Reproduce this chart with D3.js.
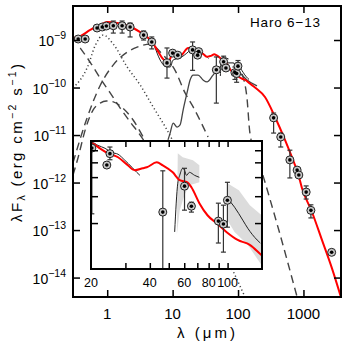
<!DOCTYPE html>
<html>
<head>
<meta charset="utf-8">
<script src="https://cdn.jsdelivr.net/npm/d3@7"></script>
<style>
body { margin: 0; background: #fff; }
text { font-family: "Liberation Sans", Arial, sans-serif; fill: #000; }
</style>
</head>
<body>
<svg id="chart" width="350" height="350"></svg>
<script>
// total model (red)
let modelLam = [0.30,0.387,0.55,0.78,1.0,1.42,1.88,2.49,3.19,4.08,4.86,5.8,6.9,8.5,10.2,13.0,17.3,20.2,22.2,24.4,27.5,30.5,33.5,36.8,38.6,43.4,46.6,52.4,56.9,62.3,65.3,71.7,78.9,87.6,98.6,112.6,129.9,149.4,182,258,367,522,692,824,948,1350,1916,2722,3740];
let modelFlux = [1.10e-9,1.21e-9,1.63e-9,2.07e-9,2.39e-9,2.28e-9,2.07e-9,1.79e-9,1.47e-9,1.16e-9,9.1e-10,6.2e-10,4.2e-10,3.4e-10,5.3e-10,4.6e-10,6.8e-10,6.66e-10,6.18e-10,5.73e-10,5.4e-10,4.85e-10,4.44e-10,4.57e-10,4.64e-10,5.0e-10,4.78e-10,4.30e-10,3.82e-10,3.70e-10,3.43e-10,2.70e-10,2.25e-10,2.0e-10,1.75e-10,1.55e-10,1.44e-10,1.23e-10,1.0e-10,6.3e-11,2.4e-11,7.9e-12,3.0e-12,1.58e-12,7.7e-13,2.4e-13,6.2e-14,1.58e-14,3.9e-15];

// stellar photosphere (dotted)
let starLam = [0.30,0.50,0.66,0.87,1.24,2.02,3.19,5.04,8.24,26.3,128];
let starFlux = [9.8e-11,2.7e-10,7.8e-10,1.27e-9,8.2e-10,2.7e-10,1.13e-10,3.9e-11,1.27e-11,4.3e-13,3.9e-15];

// dashed components
let scatLam = [0.387,0.55,0.78,1.11,1.58,2.24,3.19,4.53];
let scatFlux = [6.8e-10,3.4e-10,1.58e-10,7.7e-11,3.7e-11,1.9e-11,1.0e-11,4.8e-12];
let archLam = [0.30,0.36,0.46,0.61,0.78,0.97,1.24,1.58,2.49,3.55,4.53];
let archFlux = [1.44e-12,3.4e-12,1.27e-11,3.4e-11,4.7e-11,5.2e-11,5.0e-11,4.1e-11,2.07e-11,9.1e-12,4.8e-12];
let diskLam = [0.30,0.48,0.78,1.24,2.0,2.87,4.53,7.0,10.9,15.5,20.6,34.8];
let diskFlux = [2.6e-12,2.07e-11,1.1e-10,3.0e-10,5.5e-10,7.1e-10,8.2e-10,5.0e-10,2.3e-10,7.7e-11,3.9e-11,9.1e-12];
let coldLam = [100,115,137,152,241,420,800];
let coldFlux = [3.5e-10,2.0e-10,6.0e-11,1.1e-11,1.4e-12,1.0e-13,3.9e-15];

// envelope component (solid grey)
let envLam = [8.5,9.16,10.2,11.7,13.0,14.5,16.6,18.5,20.6,24.5,29.2,33.6,41.5,53.1,63.4,84,100,137,195];
let envFlux = [7.9e-12,1.1e-11,1.79e-11,1.47e-11,1.63e-11,3.4e-11,7.7e-11,1.44e-10,1.83e-10,1.83e-10,1.44e-10,1.31e-10,1.83e-10,2.7e-10,3.3e-10,3.3e-10,2.3e-10,1.44e-10,1.08e-10];

// observed spectra
let irsLam = [5.2,6.44,8.24,9.16,10.2,13.0,17.3,20.2,21.7,23.6,25.6,27.5,29.8,32.4,34.3,35.6];
let irsFlux = [8.0e-10,3.8e-10,2.7e-10,2.7e-10,3.8e-10,4.2e-10,5.6e-10,6.76e-10,6.46e-10,6.18e-10,5.8e-10,5.65e-10,5.16e-10,4.64e-10,4.30e-10,4.11e-10];
let pacsALam = [53.6,55.6,56.9,58.9,60.2,61.6,63.8,67.8,71.7];
let pacsAFlux = [1.75e-10,3.65e-10,4.11e-10,4.57e-10,4.44e-10,4.11e-10,4.30e-10,4.11e-10,3.99e-10];
let pacsBLam = [99.8,108.6,119.6,126.8,141.6,147.1];
let pacsBFlux = [2.91e-10,2.54e-10,2.09e-10,1.85e-10,1.55e-10,1.48e-10];
let bandALam = [55.6,58.9,66.5,71.7,71.7,63.8,60.2,56.9,55.0];
let bandAFlux = [5.73e-10,5.4e-10,5.16e-10,4.78e-10,3.70e-10,3.54e-10,3.05e-10,2.43e-10,1.67e-10];
let bandBLam = [99.8,114.2,130,149.4,149.4,126.8,108.6,99.8];
let bandBFlux = [3.65e-10,3.28e-10,2.62e-10,2.25e-10,1.06e-10,1.44e-10,1.75e-10,2.09e-10];

// photometry
let photLam = [0.36,0.46,0.70,0.84,0.97,1.24,1.69,2.24,3.6,4.8,8.2,10.0,12.0,20.2,25.0,24.1,46.6,60.2,65.3,89.7,95.2,99.8,350,450,620,800,850,1100,1300,2700];
let photFlux = [1.05e-9,1.05e-9,1.79e-9,1.88e-9,1.97e-9,2.0e-9,2.0e-9,1.88e-9,1.27e-9,9.1e-10,3.3e-10,5.3e-10,4.8e-10,6.2e-10,5.7e-10,4.8e-10,2.36e-10,3.49e-10,2.58e-10,2.06e-10,1.97e-10,2.82e-10,2.3e-11,9.1e-12,3.0e-12,1.83e-12,1.44e-12,6.3e-13,2.6e-13,3.4e-14];
let photLo = [null,null,null,null,null,1.4e-9,1.4e-9,1.16e-9,1.0e-9,6.5e-10,1.58e-10,null,null,2.3e-10,5.2e-10,null,4.7e-11,2.43e-10,2.36e-10,1.48e-10,1.29e-10,1.88e-10,1.1e-11,5.6e-12,1.25e-12,null,null,4.5e-13,1.8e-13,null];
let photHi = [null,null,null,null,null,2.51e-9,2.51e-9,2.28e-9,1.55e-9,1.16e-9,6.8e-10,null,null,9.1e-10,6.3e-10,null,4.4e-10,4.57e-10,2.74e-10,2.70e-10,2.62e-10,3.70e-10,2.9e-11,1.1e-11,4.8e-12,null,null,8.5e-13,3.4e-13,null];

let xTicks = [1, 10, 100, 1000];
let yTicks = [1e-14, 1e-13, 1e-12, 1e-11, 1e-10, 1e-9];
let insetXTicks = [30, 40, 50, 60, 70, 80, 90, 100];
let insetXLabels = [20, 40, 60, 80, 100];
let insetYTicks = [2e-10, 3e-10, 4e-10, 5e-10, 6e-10];

let svg = d3.select("#chart");
let pairs = (a, b) => d3.zip(a, b);

let x = d3.scaleLog().domain([0.3, 3750]).range([73, 341]);
let y = d3.scaleLog().domain([3.9e-15, 5.2e-9]).range([297, 6]);

svg.append("clipPath").attr("id", "mainClip")
	.append("rect").attr("x", 73).attr("y", 6).attr("width", 268).attr("height", 291);

let main = svg.append("g").attr("clip-path", "url(#mainClip)");
let line = d3.line().x(d => x(d[0])).y(d => y(d[1])).curve(d3.curveMonotoneX);

main.append("path").datum(pairs(starLam, starFlux)).attr("d", line)
	.attr("fill", "none").attr("stroke", "#444").attr("stroke-width", 1.5).attr("stroke-dasharray", "1.2,2.6");

[[scatLam, scatFlux], [archLam, archFlux], [diskLam, diskFlux], [coldLam, coldFlux]].forEach(c => {
	main.append("path").datum(pairs(c[0], c[1])).attr("d", line)
		.attr("fill", "none").attr("stroke", "#444").attr("stroke-width", 1.4).attr("stroke-dasharray", "8,5");
});

main.append("path").datum(pairs(envLam, envFlux)).attr("d", line)
	.attr("fill", "none").attr("stroke", "#444").attr("stroke-width", 1.3);

[[irsLam, irsFlux], [pacsALam, pacsAFlux], [pacsBLam, pacsBFlux]].forEach(c => {
	main.append("path").datum(pairs(c[0], c[1])).attr("d", line)
		.attr("fill", "none").attr("stroke", "#222").attr("stroke-width", 1);
});

main.append("path").datum(pairs(modelLam, modelFlux)).attr("d", line)
	.attr("fill", "none").attr("stroke", "#ff0000").attr("stroke-width", 2);

function drawPoints(g, sx, sy) {
	let pts = photLam.map((l, i) => ({l: l, f: photFlux[i], lo: photLo[i], hi: photHi[i]}));
	let bars = pts.filter(d => d.lo != null);
	g.selectAll(null).data(bars).enter().append("line")
		.attr("x1", d => sx(d.l)).attr("x2", d => sx(d.l))
		.attr("y1", d => sy(d.lo)).attr("y2", d => sy(d.hi))
		.attr("stroke", "#333").attr("stroke-width", 1.2);
	[["lo"], ["hi"]].forEach(k => {
		g.selectAll(null).data(bars).enter().append("line")
			.attr("x1", d => sx(d.l) - 2.5).attr("x2", d => sx(d.l) + 2.5)
			.attr("y1", d => sy(d[k[0]])).attr("y2", d => sy(d[k[0]]))
			.attr("stroke", "#333").attr("stroke-width", 1.2);
	});
	g.selectAll(null).data(pts).enter().append("circle")
		.attr("cx", d => sx(d.l)).attr("cy", d => sy(d.f)).attr("r", 4)
		.attr("fill", "#c8c8c8").attr("stroke", "#222").attr("stroke-width", 1);
	g.selectAll(null).data(pts).enter().append("circle")
		.attr("cx", d => sx(d.l)).attr("cy", d => sy(d.f)).attr("r", 1.8)
		.attr("fill", "#000");
}
drawPoints(main, x, y);

// main axes
let axG = svg.append("g");
axG.append("g").attr("transform", "translate(0,297)")
	.call(d3.axisBottom(x).tickValues(xTicks).tickSize(-7).tickFormat(""));
axG.append("g").attr("transform", "translate(0,6)")
	.call(d3.axisTop(x).tickValues(xTicks).tickSize(-7).tickFormat(""));
axG.append("g").attr("transform", "translate(73,0)")
	.call(d3.axisLeft(y).tickValues(yTicks).tickSize(-7).tickFormat(""));
axG.append("g").attr("transform", "translate(341,0)")
	.call(d3.axisRight(y).tickValues(yTicks).tickSize(-7).tickFormat(""));
axG.selectAll(".domain").remove();
axG.selectAll(".tick line").attr("stroke", "#000").attr("stroke-width", 1.5);
svg.append("rect").attr("x", 73).attr("y", 6).attr("width", 268).attr("height", 291)
	.attr("fill", "none").attr("stroke", "#000").attr("stroke-width", 2);

svg.selectAll(null).data(xTicks).enter().append("text")
	.attr("x", d => x(d)).attr("y", 319).attr("text-anchor", "middle")
	.attr("font-size", 15).text(d => d);

let yl = svg.selectAll(null).data(yTicks).enter().append("text")
	.attr("x", 66).attr("y", d => y(d) + 6).attr("text-anchor", "end").attr("font-size", 14);
yl.append("tspan").text("10");
yl.append("tspan").attr("dy", -7).attr("font-size", 10.5).text(d => "\u2212" + Math.round(-Math.log10(d)));

// titles
let yt = svg.append("text").attr("transform", "translate(22,143) rotate(-90)")
	.attr("text-anchor", "middle").attr("font-size", 15)
	.attr("textLength", 158).attr("lengthAdjust", "spacing");
yt.append("tspan").text("\u03bbF");
yt.append("tspan").attr("dy", 3).attr("font-size", 10.5).text("\u03bb");
yt.append("tspan").attr("dy", -3).text(" (erg cm");
yt.append("tspan").attr("dy", -6).attr("font-size", 10.5).text("\u22122");
yt.append("tspan").attr("dy", 6).text(" s");
yt.append("tspan").attr("dy", -6).attr("font-size", 10.5).text("\u22121");
yt.append("tspan").attr("dy", 6).text(")");

svg.append("text").attr("x", 206).attr("y", 338).attr("text-anchor", "middle")
	.attr("font-size", 15).attr("textLength", 58).attr("lengthAdjust", "spacing")
	.text("\u03bb (\u03bcm)");

svg.append("text").attr("x", 250).attr("y", 27).attr("font-size", 13.5)
	.attr("textLength", 70).attr("lengthAdjust", "spacing").text("Haro 6\u221213");

// inset
let ix = d3.scaleLog().domain([20, 150]).range([91, 262]);
let iy = d3.scaleLog().domain([1e-10, 6.9e-10]).range([269, 141]);
let iline = d3.line().x(d => ix(d[0])).y(d => iy(d[1])).curve(d3.curveMonotoneX);

svg.append("rect").attr("x", 91).attr("y", 141).attr("width", 171).attr("height", 128).attr("fill", "#fff");
svg.append("clipPath").attr("id", "insetClip")
	.append("rect").attr("x", 91).attr("y", 141).attr("width", 171).attr("height", 128);
let inset = svg.append("g").attr("clip-path", "url(#insetClip)");

[[bandALam, bandAFlux], [bandBLam, bandBFlux]].forEach(c => {
	inset.append("path").datum(pairs(c[0], c[1]))
		.attr("d", d3.line().x(d => ix(d[0])).y(d => iy(d[1])))
		.attr("fill", "#dcdcdc").attr("stroke", "none");
});
[[irsLam, irsFlux], [pacsALam, pacsAFlux], [pacsBLam, pacsBFlux]].forEach(c => {
	inset.append("path").datum(pairs(c[0], c[1])).attr("d", iline)
		.attr("fill", "none").attr("stroke", "#222").attr("stroke-width", 1);
});
inset.append("path").datum(pairs(modelLam, modelFlux)).attr("d", iline)
	.attr("fill", "none").attr("stroke", "#ff0000").attr("stroke-width", 2);
drawPoints(inset, ix, iy);

let inAx = svg.append("g");
inAx.append("g").attr("transform", "translate(0,269)")
	.call(d3.axisBottom(ix).tickValues(insetXTicks).tickSize(-6).tickFormat(""));
inAx.append("g").attr("transform", "translate(0,141)")
	.call(d3.axisTop(ix).tickValues(insetXTicks).tickSize(-6).tickFormat(""));
inAx.append("g").attr("transform", "translate(91,0)")
	.call(d3.axisLeft(iy).tickValues(insetYTicks).tickSize(-7).tickFormat(""));
inAx.append("g").attr("transform", "translate(262,0)")
	.call(d3.axisRight(iy).tickValues(insetYTicks).tickSize(-7).tickFormat(""));
inAx.selectAll(".domain").remove();
inAx.selectAll(".tick line").attr("stroke", "#000").attr("stroke-width", 1.5);
svg.append("rect").attr("x", 91).attr("y", 141).attr("width", 171).attr("height", 128)
	.attr("fill", "none").attr("stroke", "#000").attr("stroke-width", 2);

svg.selectAll(null).data(insetXLabels).enter().append("text")
	.attr("x", d => ix(d)).attr("y", 287).attr("text-anchor", "middle")
	.attr("font-size", 12.5).text(d => d);
</script>
</body>
</html>
